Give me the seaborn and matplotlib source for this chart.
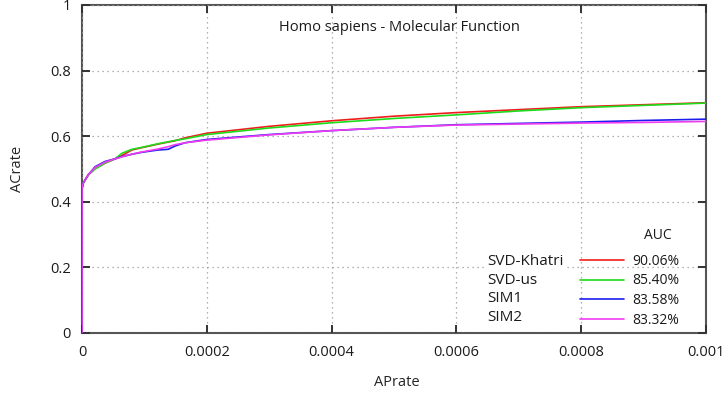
import numpy as np
import pandas as pd
import matplotlib
matplotlib.use("Agg")
import matplotlib.pyplot as plt
import seaborn as sns
from matplotlib.lines import Line2D

# ---- data ----
aprate = [0.0, 0.0, 0.000002, 0.00001, 0.000021, 0.000037, 0.000053, 0.000064,
          0.00008, 0.000096, 0.000122, 0.000138, 0.000149, 0.000165,
          0.0002, 0.0003, 0.0004, 0.0005, 0.0006, 0.0007, 0.0008, 0.0009, 0.001]
svd_khatri = [0.0, 0.44, 0.457, 0.482, 0.502, 0.518, 0.531, 0.541, 0.558, 0.565,
              0.576, 0.582, 0.586, 0.595, 0.609, 0.630, 0.647, 0.661, 0.672,
              0.681, 0.690, 0.696, 0.702]
svd_us = [0.0, 0.44, 0.457, 0.482, 0.500, 0.518, 0.531, 0.548, 0.560, 0.566,
          0.577, 0.583, 0.587, 0.592, 0.605, 0.625, 0.641, 0.654, 0.665,
          0.677, 0.687, 0.694, 0.701]
sim1 = [0.0, 0.44, 0.457, 0.482, 0.507, 0.523, 0.531, 0.538, 0.545, 0.551,
        0.558, 0.560, 0.570, 0.580, 0.590, 0.605, 0.617, 0.627, 0.635,
        0.639, 0.643, 0.648, 0.652]
sim2 = [0.0, 0.44, 0.457, 0.482, 0.505, 0.521, 0.531, 0.537, 0.545, 0.552,
        0.561, 0.568, 0.574, 0.580, 0.588, 0.604, 0.617, 0.627, 0.634,
        0.637, 0.640, 0.642, 0.645]
methods = ["SVD-Khatri", "SVD-us", "SIM1", "SIM2"]
auc_labels = ["90.06%", "85.40%", "83.58%", "83.32%"]
colors = ["#f01c1c", "#1cdc1c", "#1c1cf0", "#f03cf0"]
x_ticks = [0, 0.0002, 0.0004, 0.0006, 0.0008, 0.001]
x_tick_labels = ["0", "0.0002", "0.0004", "0.0006", "0.0008", "0.001"]
y_ticks = [0, 0.2, 0.4, 0.6, 0.8, 1.0]
y_tick_labels = ["0", "0.2", "0.4", "0.6", "0.8", "1"]

rows = []
for m, ys in zip(methods, [svd_khatri, svd_us, sim1, sim2]):
    for i, (xv, yv) in enumerate(zip(aprate, ys)):
        rows.append({"method": m, "APrate": xv, "ACrate": yv, "order": i})
df = pd.DataFrame(rows)

sns.set_style("white")
plt.rcParams.update({
    "font.family": ["Open Sans", "DejaVu Sans"],
    "text.color": "#1a1a1a",
    "xtick.bottom": True, "xtick.top": True,
    "ytick.left": True, "ytick.right": True,
    "xtick.direction": "in", "ytick.direction": "in",
    "xtick.major.size": 6, "ytick.major.size": 6,
    "xtick.major.width": 1.4, "ytick.major.width": 1.4,
    "xtick.color": "#333333", "ytick.color": "#333333",
    "xtick.labelcolor": "#1a1a1a", "ytick.labelcolor": "#1a1a1a",
    "axes.axisbelow": False,
})

fig = plt.figure(figsize=(7.28, 3.96), dpi=100)
ax = fig.add_axes([82 / 728, 1 - 333 / 396, 624 / 728, 328 / 396])

sns.lineplot(data=df, x="APrate", y="ACrate", hue="method", hue_order=methods,
             palette=colors, estimator=None, sort=False, units="method",
             linewidth=1.2, legend=False, ax=ax, zorder=3)

ax.set_xlim(0, 0.001)
ax.set_ylim(0, 1)
ax.set_xticks(x_ticks)
ax.set_xticklabels(x_tick_labels)
ax.set_yticks(y_ticks)
ax.set_yticklabels(y_tick_labels)
ax.tick_params(labelsize=10.5)
ax.tick_params(axis="x", pad=9)
ax.tick_params(axis="y", pad=8)
ax.grid(True, linestyle=(0, (1, 3)), color="#999999", linewidth=0.9, zorder=1)
for s in ax.spines.values():
    s.set_color("#555555")
    s.set_linewidth(1.5)
    s.set_visible(True)

ax.set_xlabel("APrate", fontsize=10.5)
ax.set_ylabel("ACrate", fontsize=10.5)
ax.xaxis.set_label_coords(0.505, -0.128)
ax.yaxis.set_label_coords(-0.091, 0.5)

ax.text(0.508, 0.93, "Homo sapiens - Molecular Function", transform=ax.transAxes,
        ha="center", va="center", fontsize=10.5)

# legend: label column
blank = [Line2D([], [], linestyle="none") for _ in methods]
leg1 = ax.legend(blank, methods, loc="upper left", bbox_to_anchor=(0.645, 0.25),
                 handlelength=0, handletextpad=0, labelspacing=0.23,
                 borderpad=0.2, borderaxespad=0, fontsize=11,
                 frameon=True, facecolor="white", edgecolor="none", framealpha=1)
ax.add_artist(leg1)
line_handles = [Line2D([], [], color=c, linewidth=1.2) for c in colors]
leg2 = ax.legend(line_handles, auc_labels, loc="upper left", bbox_to_anchor=(0.793, 0.25),
                 handlelength=3.2, handletextpad=0.6, labelspacing=0.33,
                 borderpad=0.2, borderaxespad=0, fontsize=10, frameon=False)
ax.text(0.923, 0.296, "AUC", transform=ax.transAxes, ha="center", va="center",
        fontsize=10)

fig.savefig("out.png", dpi=100)
